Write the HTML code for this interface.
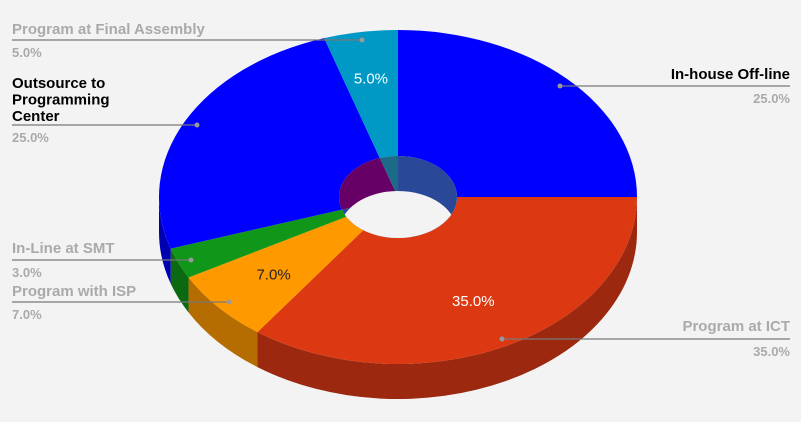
<!DOCTYPE html>
<html><head><meta charset="utf-8"><style>
html,body{margin:0;padding:0;background:#f3f3f3;}
svg{display:block;font-family:"Liberation Sans",sans-serif;}
</style></head><body>
<svg id="chart" width="801" height="422" viewBox="0 0 801 422" xmlns="http://www.w3.org/2000/svg">
<rect width="801" height="422" fill="#f3f3f3"/>
<g id="sides"></g>
<g id="tops"></g>
<g id="hole"></g>
<g id="labels"></g>
</svg>
<script>
const categories = ["In-house Off-line","Program at ICT","Program with ISP","In-Line at SMT","Outsource to Programming Center","Program at Final Assembly"];
const values = [25,35,7,3,25,5];
const colors = ["#0000ff","#dc3912","#ff9900","#109618","#0000ff","#0099c6"];
const sideColors = ["#0000b0","#9c2810","#b56c00","#0b6a11","#0000b0","#006c8c"];
const wallColors = ["#2a4898","#2a4898","#2a4898","#2a4898","#660066","#1a6a88"];
const pctLabels = ["25.0%","35.0%","7.0%","3.0%","25.0%","5.0%"];

const NS="http://www.w3.org/2000/svg";
const cx=398, cy=197, rx=239, ry=167, depth=35, hrx=59, hry=41;
function px(a,r){return cx+r*Math.sin(a*Math.PI/180);}
function py(a,r,d){return cy-r*Math.cos(a*Math.PI/180)+(d||0);}
function mk(tag,attrs,parent){const e=document.createElementNS(NS,tag);for(const k in attrs)e.setAttribute(k,attrs[k]);parent.appendChild(e);return e;}
const total=values.reduce((s,v)=>s+v,0);
const starts=[];let acc=0;
values.forEach(v=>{starts.push(acc/total*360);acc+=v;});
const sides=document.getElementById('sides'),tops=document.getElementById('tops'),hole=document.getElementById('hole'),labels=document.getElementById('labels');

values.forEach((v,i)=>{
  const a0=starts[i], a1=a0+v/total*360;
  // side (front half only: 90..270)
  const s0=Math.max(a0,90), s1=Math.min(a1,270);
  if(s1>s0){
    const large=(s1-s0)>180?1:0;
    const d=`M${px(s0,rx)},${py(s0,ry)} A${rx},${ry} 0 ${large} 1 ${px(s1,rx)},${py(s1,ry)} L${px(s1,rx)},${py(s1,ry,depth)} A${rx},${ry} 0 ${large} 0 ${px(s0,rx)},${py(s0,ry,depth)} Z`;
    const p=mk('path',{d:d,fill:sideColors[i]},sides);
    
    
  }
  const large=(a1-a0)>180?1:0;
  const d=`M${px(a0,hrx)},${py(a0,hry)} L${px(a0,rx)},${py(a0,ry)} A${rx},${ry} 0 ${large} 1 ${px(a1,rx)},${py(a1,ry)} L${px(a1,hrx)},${py(a1,hry)} A${hrx},${hry} 0 ${large} 0 ${px(a0,hrx)},${py(a0,hry)} Z`;
  const p=mk('path',{d:d,fill:colors[i]},tops);
  
  
  // inner wall (back half of hole)
  const w0=a0, w1=a1;
  const wl=(w1-w0)>180?1:0;
  const wd=`M${cx},${cy} L${px(w0,hrx)},${py(w0,hry)} A${hrx},${hry} 0 ${wl} 1 ${px(w1,hrx)},${py(w1,hry)} Z`;
  const w=mk('path',{d:wd,fill:wallColors[i]},hole);
  
  
});
const defs=mk('defs',{},hole);
const cp=mk('clipPath',{id:'hc'},defs);
mk('ellipse',{cx:cx,cy:cy,rx:hrx,ry:hry},cp);
const fl=mk('ellipse',{cx:cx,cy:cy+depth,rx:hrx,ry:hry,fill:"#f3f3f3","clip-path":"url(#hc)"},hole);



// in-slice percentage labels
const inner=[{i:5,col:"#ffffff"},{i:2,col:"#222"},{i:1,col:"#ffffff"}];
inner.forEach(o=>{
  const mid=starts[o.i]+values[o.i]/total*180;
  const r=o.i===5?0.65:0.62;
  const t=mk('text',{x:px(mid,rx*r+hrx*0.3),y:py(mid,ry*r+hry*0.3)+6,fill:o.col,'font-size':15,'text-anchor':'middle'},labels);
  t.textContent=pctLabels[o.i];
  
  
});

// leader labels
const leader=[
 {i:0,side:'r',lines:["In-house Off-line"],ty:79,ly:86,x0:560,dark:true},
 {i:1,side:'r',lines:["Program at ICT"],ty:331,ly:339,x0:502,dark:false},
 {i:5,side:'l',lines:["Program at Final Assembly"],ty:34,ly:40,x0:362,dark:false},
 {i:4,side:'l',lines:["Outsource to","Programming","Center"],ty:88,ly:125,x0:197,dark:true},
 {i:3,side:'l',lines:["In-Line at SMT"],ty:253,ly:260,x0:191,dark:false},
 {i:2,side:'l',lines:["Program with ISP"],ty:296,ly:302,x0:229,dark:false}
];
leader.forEach(o=>{
  const x1=o.side==='r'?790:12;
  const l=mk('line',{x1:o.x0,y1:o.ly,x2:x1,y2:o.ly,stroke:"#777",'stroke-width':1.3},labels);
  
  
  const dot=mk('circle',{cx:o.x0,cy:o.ly,r:2.5,fill:"#999"},labels);
  
  
  const anchor=o.side==='r'?'end':'start';
  o.lines.forEach((s,k)=>{
    const t=mk('text',{x:x1,y:o.ty+k*16.5,fill:o.dark?"#000":"#aaaaaa",'font-size':15,'font-weight':'bold','text-anchor':anchor},labels);
    t.textContent=s;
    
    
  });
  const v=mk('text',{x:x1,y:o.ly+17,fill:"#aaaaaa",'font-size':13,'font-weight':'bold','text-anchor':anchor},labels);
  v.textContent=pctLabels[o.i];
  
  
});
</script>
</body></html>
